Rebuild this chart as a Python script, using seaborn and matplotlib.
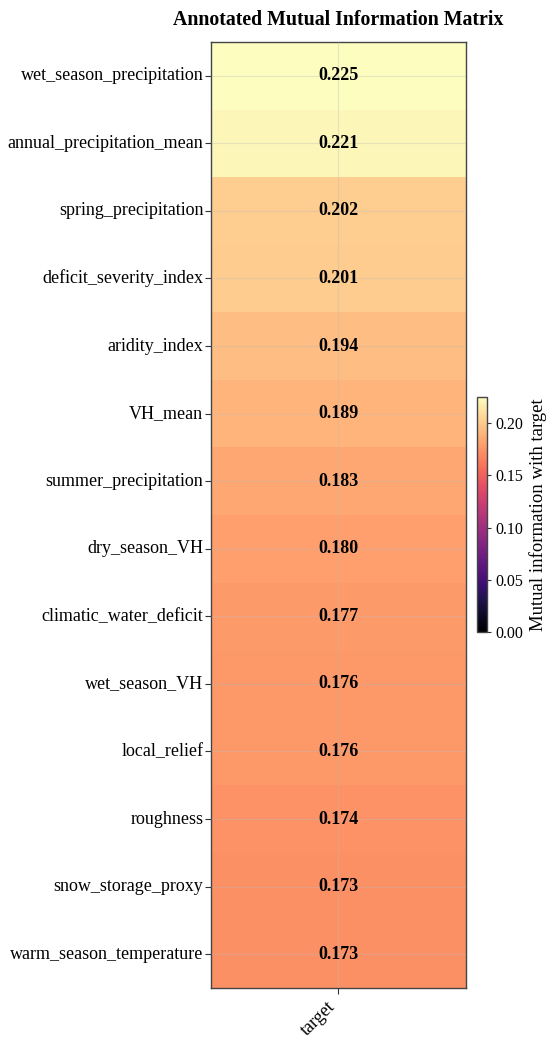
import matplotlib
matplotlib.use("Agg")
import matplotlib.pyplot as plt
import seaborn as sns
import pandas as pd

features = [
    "wet_season_precipitation",
    "annual_precipitation_mean",
    "spring_precipitation",
    "deficit_severity_index",
    "aridity_index",
    "VH_mean",
    "summer_precipitation",
    "dry_season_VH",
    "climatic_water_deficit",
    "wet_season_VH",
    "local_relief",
    "roughness",
    "snow_storage_proxy",
    "warm_season_temperature",
]
mi_values = [0.225, 0.221, 0.202, 0.201, 0.194, 0.189, 0.183,
             0.180, 0.177, 0.176, 0.176, 0.174, 0.173, 0.173]

df = pd.DataFrame({"target": mi_values}, index=features)

sns.set_style("white")
plt.rcParams["font.family"] = ["Liberation Serif", "DejaVu Serif"]
plt.rcParams["text.color"] = "black"
plt.rcParams["axes.labelcolor"] = "black"
plt.rcParams["xtick.color"] = "black"
plt.rcParams["ytick.color"] = "black"

fig = plt.figure(figsize=(5.5, 10.41), dpi=100)
ax = fig.add_axes([0.3836, 0.0509, 0.4636, 0.9088])
cax = fig.add_axes([0.867, 0.3929, 0.018, 0.2257])

sns.heatmap(df, ax=ax, cbar_ax=cax, cmap="magma", vmin=0, vmax=max(mi_values),
            annot=True, fmt=".3f",
            annot_kws={"fontsize": 13, "fontweight": "bold", "color": "black"},
            cbar_kws={"label": "Mutual information with target"})

ax.set_axisbelow(False)
ax.grid(True, color="#bbbbbb", alpha=0.35, linewidth=0.8)
for s in ax.spines.values():
    s.set_visible(True)
    s.set_color("#444444")
    s.set_linewidth(1.0)

ax.tick_params(axis="both", length=4, width=0.8, color="#333333", labelsize=13)
ax.tick_params(axis="y", pad=1.5)
ax.tick_params(left=True, bottom=True)
ax.set_xticklabels(ax.get_xticklabels(), rotation=45, ha="right", fontsize=13)
ax.set_yticklabels(ax.get_yticklabels(), rotation=0, fontsize=13)
ax.set_title("Annotated Mutual Information Matrix", fontsize=14.3,
             fontweight="bold", pad=12)

cax.tick_params(labelsize=11.5, length=3, width=0.8, color="#333333")
cax.set_yticks([0.0, 0.05, 0.10, 0.15, 0.20])
cax.set_yticklabels(["0.00", "0.05", "0.10", "0.15", "0.20"])
cax.yaxis.label.set_size(13.5)
cb = ax.collections[0].colorbar
cb.outline.set_visible(True)
cb.outline.set_edgecolor("#444444")
cb.outline.set_linewidth(1.0)

fig.savefig("out.png", dpi=100)
